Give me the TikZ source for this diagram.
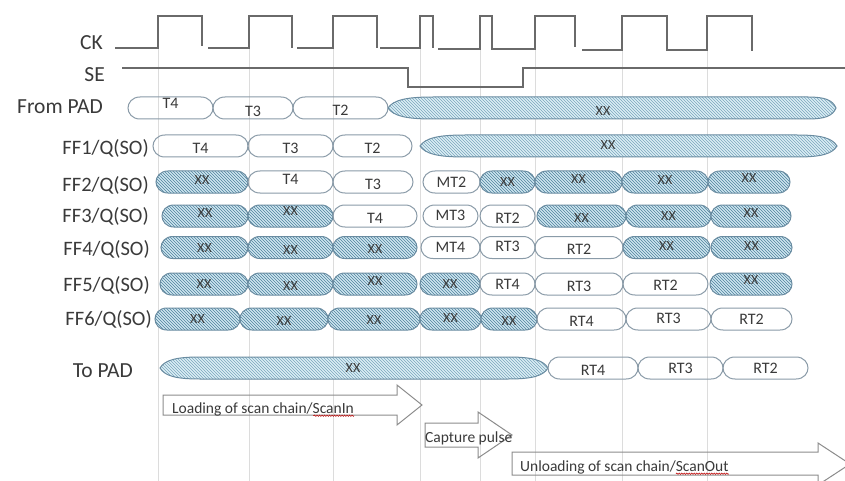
\documentclass[tikz,border=0pt]{standalone}
\usepackage{fontspec}
\setmainfont{Carlito}
\usetikzlibrary{patterns,decorations.pathmorphing}
\definecolor{capline}{HTML}{8A9BA8}
\definecolor{xline}{HTML}{6A8CA1}
\definecolor{xfill}{HTML}{CFE6F0}
\definecolor{xhatch}{HTML}{4E829D}
\definecolor{lfill}{HTML}{DCEEF5}
\definecolor{lhatch}{HTML}{7AA6BC}
\definecolor{txt}{HTML}{3A3A3A}
\definecolor{wavec}{HTML}{6A6A6A}
\definecolor{gridc}{HTML}{DCDCDC}
\definecolor{arrline}{HTML}{8C8C8C}
% #1 style, #2 name, #3 x0, #4 x1, #5 yc, #6 raise, #7 text
\newcommand\capn[7]{%
 \path[#1] (#3,#5) .. controls (#3,#5-5) and (#3+4,#5-11) .. (#3+12,#5-11) -- (#4-12,#5-11)
   .. controls (#4-4,#5-11) and (#4,#5-5) .. (#4,#5) .. controls (#4,#5+5) and (#4-4,#5+11) .. (#4-12,#5+11)
   -- (#3+12,#5+11) .. controls (#3+4,#5+11) and (#3,#5+5) .. (#3,#5) -- cycle;
 \node[#1text, minimum width={(#4-#3)*1pt}] (#2) at ({(#3+#4)/2},#5) {\raisebox{#6pt}{#7}};}
\newcommand\lensxx[5]{%
 \path[xlens] (#1,#3) .. controls (#1+0.12*#4,#3-8) and (#1+0.4*#4,#3-11) .. (#1+#4,#3-11)
   -- (#2-#5,#3-11) .. controls (#2-0.4*#5,#3-11) and (#2-0.12*#5,#3-8) .. (#2,#3)
   .. controls (#2-0.12*#5,#3+8) and (#2-0.4*#5,#3+11) .. (#2-#5,#3+11)
   -- (#1+#4,#3+11) .. controls (#1+0.4*#4,#3+11) and (#1+0.12*#4,#3+8) .. (#1,#3) -- cycle;}
\begin{document}
\begin{tikzpicture}[x=1pt,y=-1pt,
  lbl/.style={anchor=east, inner sep=0pt, text depth=0pt, text=txt},
  lblA/.style={lbl, font=\fontsize{21.5}{24}\selectfont, text height=13.8pt},
  lblB/.style={lbl, font=\fontsize{20.5}{23}\selectfont, text height=13.2pt},
  wcap/.style={draw=capline, line width=1pt},
  wcaptext/.style={minimum height=22pt, inner sep=0pt, text height=10pt, text depth=0pt, text=txt, font=\fontsize{16}{18}\selectfont},
  xcap/.style={draw=xline, line width=1pt, preaction={fill=xfill}, pattern=north west lines, pattern color=xhatch},
  xcaptext/.style={wcaptext, text height=9pt, font=\fontsize{14}{16}\selectfont},
  xlens/.style={draw=xline, line width=1pt, preaction={fill=lfill}, pattern=north west lines, pattern color=lhatch},
  xtext/.style={inner sep=0pt, text height=9pt, text depth=0pt, text=txt, font=\fontsize{14}{16}\selectfont},
  arr/.style={draw=arrline, line width=1pt},
  atext/.style={anchor=west, inner sep=0pt, text height=10pt, text depth=0pt, text=txt, font=\fontsize{15.5}{18}\selectfont},
  squig/.style={draw=red!75!black, line width=0.5pt, decorate, decoration={snake, amplitude=0.7pt, segment length=2.5pt}},
  gridl/.style={draw=gridc, line width=0.8pt},
  wavel/.style={draw=wavec, line width=1.8pt}]
\fill[white] (0,0) rectangle (845,481);
\useasboundingbox (0,0) rectangle (845,481);
% grid
\foreach \gx in {158,249,333,420,480,535,622,707} \draw[gridl] (\gx,15) -- (\gx,481);
% CK
\draw[wavel] (115,48) -- (158,48) -- (158,16) -- (202,16) -- (202,46);
\draw[wavel] (208,48) -- (249,48) -- (249,16) -- (292,16) -- (292,48);
\draw[wavel] (297,48) -- (333,48) -- (333,16) -- (377,16) -- (377,48);
\draw[wavel] (380,48) -- (420,48) -- (420,16) -- (433,16) -- (433,48);
\draw[wavel] (438,49) -- (480,49) -- (480,16) -- (492,16) -- (492,49) -- (535,49) -- (535,16) -- (575,16) -- (575,47);
\draw[wavel] (582,50) -- (622,50) -- (622,16) -- (667,16) -- (667,50) -- (707,50) -- (707,16) -- (752,16) -- (752,51);
% SE
\draw[wavel] (122,68) -- (408,68) -- (408,87) -- (523,87) -- (523,68) -- (845,68);
% labels
\node[lblA] (ck) at (103,43) {CK};
\node[lblA] (se) at (105,75) {SE};
\node[lblA] (fpad) at (103,107) {From PAD};
\node[lblB] (ff1) at (149,148) {FF1/Q(SO)};
\node[lblB] (ff2) at (149,185) {FF2/Q(SO)};
\node[lblB] (ff3) at (149,216) {FF3/Q(SO)};
\node[lblB] (ff4) at (150,249) {FF4/Q(SO)};
\node[lblB] (ff5) at (150,285) {FF5/Q(SO)};
\node[lblB] (ff6) at (152,319) {FF6/Q(SO)};
\node[lblA] (tpad) at (133,371) {To PAD};
% From PAD
\capn{wcap}{fp1}{128}{213}{108}{4}{T4}
\capn{wcap}{fp2}{213}{293}{108}{-4}{T3}
\capn{wcap}{fp3}{293}{388}{108}{-3}{T2}
\lensxx{388}{836}{108}{45}{28}
\node[xtext] (fpx) at (603,111) {XX};
% FF1
\capn{wcap}{a1}{153}{248}{146}{-2}{T4}
\capn{wcap}{a2}{248}{333}{146}{-2}{T3}
\capn{wcap}{a3}{333}{412}{146}{-2}{T2}
\lensxx{420}{837}{146}{45}{40}
\node[xtext] (ax) at (608,145) {XX};
% FF2
\capn{xcap}{b1}{156}{248}{182}{2}{XX}
\capn{wcap}{b2}{248}{333}{182}{3}{T4}
\capn{wcap}{b3}{333}{413}{182}{-2}{T3}
\capn{wcap}{b4}{423}{480}{182}{0}{MT2}
\capn{xcap}{b5}{480}{535}{182}{0}{XX}
\capn{xcap}{b6}{535}{622}{182}{3}{XX}
\capn{xcap}{b7}{622}{708}{182}{2}{XX}
\capn{xcap}{b8}{708}{790}{182}{4}{XX}
% FF3
\capn{xcap}{c1}{162}{248}{216}{3}{XX}
\capn{xcap}{c2}{248}{333}{216}{5}{XX}
\capn{wcap}{c3}{333}{417}{216}{-2}{T4}
\capn{wcap}{c4}{423}{478}{216}{1}{MT3}
\capn{wcap}{c5}{480}{535}{216}{-2}{RT2}
\capn{xcap}{c6}{537}{626}{216}{-2}{XX}
\capn{xcap}{c7}{626}{711}{216}{0}{XX}
\capn{xcap}{c8}{711}{791}{216}{3}{XX}
% FF4
\capn{xcap}{d1}{161}{248}{247.5}{0}{XX}
\capn{xcap}{d2}{248}{333}{247.5}{-2}{XX}
\capn{xcap}{d3}{333}{417}{247.5}{-1}{XX}
\capn{wcap}{d4}{421}{480}{247.5}{0}{MT4}
\capn{wcap}{d5}{480}{535}{247.5}{1}{RT3}
\capn{wcap}{d6}{535}{623}{247.5}{-2}{RT2}
\capn{xcap}{d7}{623}{710}{247.5}{2}{XX}
\capn{xcap}{d8}{711}{792}{247.5}{2}{XX}
% FF5
\capn{xcap}{e1}{160}{248}{284}{0}{XX}
\capn{xcap}{e2}{248}{333}{284}{-2}{XX}
\capn{xcap}{e3}{333}{417}{284}{3}{XX}
\capn{xcap}{e4}{420}{480}{284}{0}{XX}
\capn{wcap}{e5}{480}{535}{284}{0}{RT4}
\capn{wcap}{e6}{535}{623}{284}{-2}{RT3}
\capn{wcap}{e7}{623}{708}{284}{-1}{RT2}
\capn{xcap}{e8}{710}{792}{284}{4}{XX}
% FF6
\capn{xcap}{f1}{155}{240}{319}{0}{XX}
\capn{xcap}{f2}{240}{328}{319}{-2}{XX}
\capn{xcap}{f3}{328}{420}{319}{-1}{XX}
\capn{xcap}{f4}{420}{481}{319}{1}{XX}
\capn{xcap}{f5}{481}{537}{319}{-2}{XX}
\capn{wcap}{f6}{537}{626}{319}{-2}{RT4}
\capn{wcap}{f7}{626}{711}{319}{1}{RT3}
\capn{wcap}{f8}{711}{792}{319}{0}{RT2}
% To PAD
\lensxx{160}{548}{368}{40}{40}
\node[xtext] (tx) at (353,368) {XX};
\capn{wcap}{g1}{548}{638}{368}{-2}{RT4}
\capn{wcap}{g2}{638}{723}{368}{0}{RT3}
\capn{wcap}{g3}{723}{808}{368}{0}{RT2}
% block arrows
\draw[arr] (163,395) -- (397,395) -- (397,385) -- (422,405) -- (397,425) -- (397,415) -- (163,415) -- cycle;
\node[atext] (ld) at (172,408) {Loading of scan chain/ScanIn};
\draw[squig] ([yshift=-2.5pt]ld.south east) -- ++(-41,0);
\draw[arr] (425,423) -- (478,423) -- (478,412) -- (512,435) -- (478,458) -- (478,447) -- (425,447) -- cycle;
\node[atext] (cp) at (425,437) {Capture pulse};
\draw[arr] (512,452) -- (818,452) -- (818,443) -- (850,464) -- (818,485) -- (818,475) -- (512,475) -- cycle;
\node[atext] (ul) at (520,466) {Unloading of scan chain/ScanOut};
\draw[squig] ([yshift=-2.5pt]ul.south east) -- ++(-53,0);
\end{tikzpicture}
\end{document}
